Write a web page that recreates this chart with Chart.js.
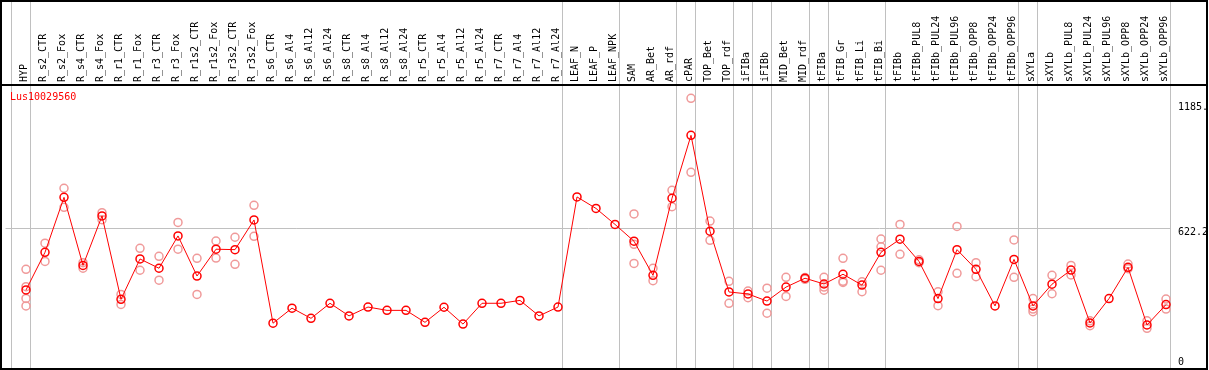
<!DOCTYPE html>
<html>
<head>
<meta charset="utf-8">
<script src="https://cdn.jsdelivr.net/npm/chart.js@4/dist/chart.umd.min.js"></script>
<style>
  html, body { margin: 0; padding: 0; background: #fff; }
  #wrap { width: 1209px; height: 370px; }
</style>
</head>
<body>
<div id="wrap"><canvas id="chart" width="1209" height="370"></canvas></div>
<script>
const GENE = 'Lus10029560';

const categories = [
  'HYP', 'R_s2_CTR', 'R_s2_Fox', 'R_s4_CTR', 'R_s4_Fox', 'R_r1_CTR', 'R_r1_Fox', 'R_r3_CTR', 'R_r3_Fox',
  'R_r1s2_CTR', 'R_r1s2_Fox', 'R_r3s2_CTR', 'R_r3s2_Fox', 'R_s6_CTR', 'R_s6_Al4', 'R_s6_Al12', 'R_s6_Al24',
  'R_s8_CTR', 'R_s8_Al4', 'R_s8_Al12', 'R_s8_Al24', 'R_r5_CTR', 'R_r5_Al4', 'R_r5_Al12', 'R_r5_Al24',
  'R_r7_CTR', 'R_r7_Al4', 'R_r7_Al12', 'R_r7_Al24', 'LEAF_N', 'LEAF_P', 'LEAF_NPK', 'SAM', 'AR_Bet', 'AR_rdf',
  'cPAR', 'TOP_Bet', 'TOP_rdf', 'iFIBa', 'iFIBb', 'MID_Bet', 'MID_rdf', 'tFIBa', 'tFIB_Gr', 'tFIB_Li', 'tFIB_Bi',
  'tFIBb', 'tFIBb_PUL8', 'tFIBb_PUL24', 'tFIBb_PUL96', 'tFIBb_OPP8', 'tFIBb_OPP24', 'tFIBb_OPP96',
  'sXYLa', 'sXYLb', 'sXYLb_PUL8', 'sXYLb_PUL24', 'sXYLb_PUL96', 'sXYLb_OPP8', 'sXYLb_OPP24', 'sXYLb_OPP96'
];

// mean expression per sample
const means = [
  344, 514, 762, 455, 678, 302, 484, 442, 588, 407, 528, 526, 660, 194, 262, 216, 284,
  227, 267, 252, 252, 198, 266, 190, 284, 284, 297, 227, 267, 764, 712, 640, 564, 410, 758,
  1042, 609, 335, 326, 294, 357, 397, 371, 415, 366, 514, 573, 473, 305, 526, 437, 272, 482,
  272, 370, 434, 195, 305, 446, 186, 278
];

// individual replicates per sample
const replicates = [
  [437, 359, 306, 272], [555, 473], [803, 717], [467, 442], [693, 661], [324, 279], [532, 433],
  [496, 388], [649, 528], [487, 324], [565, 488], [582, 460], [726, 586],
  [], [], [], [], [], [], [], [], [], [], [], [], [], [], [], [], [], [], [],
  [687, 550, 464], [442, 386], [794, 720], [1209, 875], [655, 568], [383, 284], [339, 309],
  [352, 239], [401, 315], [392, 400], [401, 357, 343], [487, 383, 378], [381, 336],
  [574, 539, 433], [640, 505], [467, 480], [336, 273], [631, 419], [467, 404], [], [570, 401],
  [305, 258, 246], [410, 327], [455, 412], [205, 183], [], [461, 440], [205, 171], [303, 258]
];

// last sample index of each group (-1 = left edge)
const groupEnds = [-1, 0, 28, 31, 34, 35, 37, 38, 39, 41, 42, 45, 52, 53, 60];

const yTicks = [0, 622.2, 1185];
const yTickLabels = ['0', '622.2', '1185.'];

const MONO = 'DejaVu Sans Mono';

const noPad = s => { s.paddingTop = 0; s.paddingBottom = 0; s.paddingLeft = 0; s.paddingRight = 0; };

const frame = {
  id: 'frame',
  beforeDatasetsDraw(chart) {
    const { ctx, scales: { x } } = chart;
    ctx.save();
    ctx.strokeStyle = '#c0c0c0';
    ctx.lineWidth = 1;
    groupEnds.forEach(g => {
      const px = Math.round(x.getPixelForValue(g + 0.23)) + 0.5;
      ctx.beginPath();
      ctx.moveTo(px, 0);
      ctx.lineTo(px, 369);
      ctx.stroke();
    });
    ctx.restore();
  },
  afterDraw(chart) {
    const { ctx, chartArea } = chart;
    ctx.save();
    ctx.strokeStyle = '#000';
    ctx.lineWidth = 2;
    ctx.strokeRect(1, 1, 1206, 368);
    ctx.beginPath();
    ctx.moveTo(0, chartArea.top);
    ctx.lineTo(1208, chartArea.top);
    ctx.stroke();
    ctx.fillStyle = '#ff0000';
    ctx.font = `10px "${MONO}"`;
    ctx.textBaseline = 'middle';
    ctx.fillText(GENE, 10, chartArea.top + 12.5);
    ctx.restore();
  }
};

new Chart(document.getElementById('chart'), {
  type: 'line',
  data: {
    datasets: [
      {
        label: GENE,
        data: means.map((v, i) => ({ x: i, y: v })),
        borderColor: '#ff0000',
        borderWidth: 1,
        pointRadius: 4,
        pointBorderWidth: 1.5,
        pointBorderColor: '#ff0000',
        pointBackgroundColor: 'transparent',
        clip: false,
        order: 0,
      },
      {
        label: 'replicates',
        data: replicates.flatMap((r, i) => r.map(v => ({ x: i, y: v }))),
        showLine: false,
        pointRadius: 4,
        pointBorderWidth: 1.5,
        pointBorderColor: '#f09a9a',
        pointBackgroundColor: 'transparent',
        clip: false,
        order: 1,
      },
    ],
  },
  options: {
    responsive: false,
    animation: false,
    devicePixelRatio: 1,
    layout: { padding: { top: 0, left: 2, right: 2, bottom: 1 } },
    plugins: { legend: { display: false }, tooltip: { enabled: false } },
    scales: {
      x: {
        type: 'linear',
        position: 'top',
        min: -1.079,
        max: 60.263,
        grid: { display: false },
        border: { display: false },
        afterBuildTicks: s => { s.ticks = categories.map((_, i) => ({ value: i })); },
        afterFit: s => { s.height = 85; noPad(s); },
        ticks: {
          autoSkip: false,
          minRotation: 90,
          maxRotation: 90,
          padding: -5,
          labelOffset: 10,
          color: '#000',
          font: { family: MONO, size: 10 },
          callback: v => categories[v],
        },
      },
      y: {
        position: 'right',
        min: 7.7,
        max: 1269,
        border: { display: false },
        grid: {
          drawTicks: false,
          color: c => (c.tick && c.tick.value === 622.2 ? '#c0c0c0' : 'transparent'),
        },
        afterBuildTicks: s => { s.ticks = yTicks.map(v => ({ value: v })); },
        afterFit: s => { s.width = 36; noPad(s); },
        ticks: {
          crossAlign: 'near',
          padding: 7,
          labelOffset: 4,
          color: '#000',
          font: { family: MONO, size: 10, lineHeight: 1.6 },
          callback: (v, i) => (i === 0 ? [yTickLabels[i], ''] : yTickLabels[i]),
        },
      },
    },
  },
  plugins: [frame],
});
</script>
</body>
</html>
